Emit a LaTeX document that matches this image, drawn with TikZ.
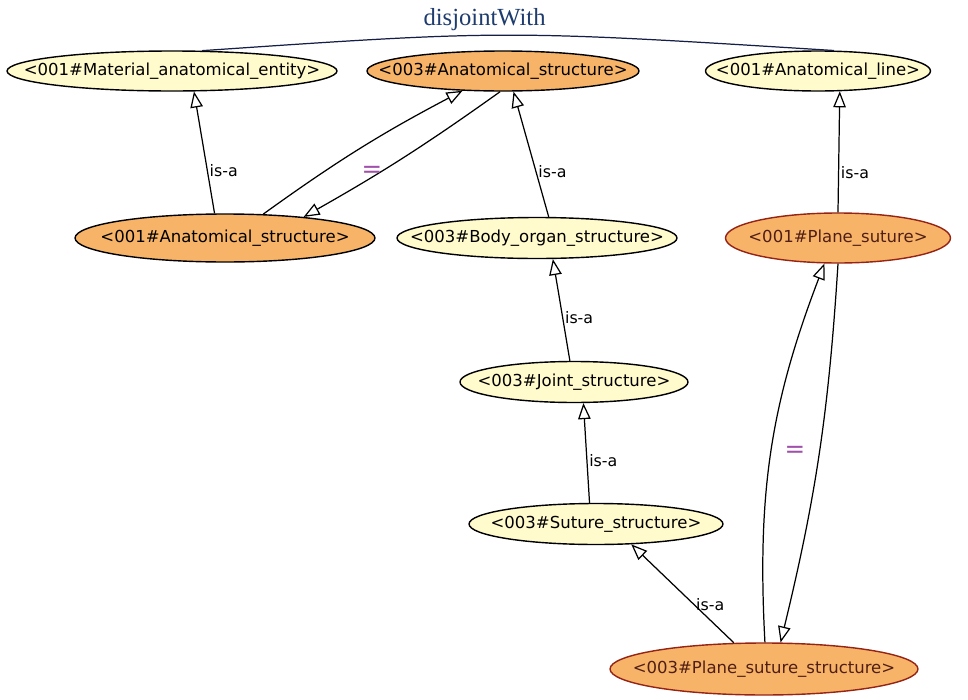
\documentclass[tikz,border=0pt]{standalone}
\usepackage{fontspec}
\newfontfamily\conceptfont{DejaVu Sans}
\newfontfamily\relfont{Liberation Serif}
\usetikzlibrary{shapes.geometric,arrows.meta,positioning}
\definecolor{paleyellow}{RGB}{255,251,204}
\definecolor{lightorange}{RGB}{247,180,104}
\definecolor{sutureborder}{RGB}{150,35,20}
\definecolor{suturetext}{RGB}{80,30,20}
\definecolor{eqpurple}{RGB}{160,80,170}
\definecolor{relblue}{RGB}{30,60,110}
\definecolor{relline}{RGB}{20,30,70}

\begin{document}
\begin{tikzpicture}[x=0.02cm,y=-0.02cm,
  concept/.style={ellipse,draw,line width=0.8pt,inner xsep=-40pt,inner ysep=0pt,minimum height=0.8cm,font=\conceptfont\fontsize{9.4}{11}\selectfont},
  yellowc/.style={concept,fill=paleyellow},
  orangec/.style={concept,fill=lightorange},
  suturec/.style={concept,fill=lightorange,draw=sutureborder,text=suturetext},
  isa/.style={-{Triangle[open,length=0.32cm,width=0.25cm]},line width=0.7pt},
  rel/.style={font=\conceptfont\fontsize{9}{10}\selectfont,inner sep=1pt,pos=0.42},
  eq/.style={text=eqpurple,font=\conceptfont\fontsize{14}{14}\selectfont}]
\path[fill=white] (0,0) rectangle (968,700);

\node[yellowc,minimum width=6.6cm] (mat) at (172,71) {<001\#Material\_anatomical\_entity>};
\node[orangec,minimum width=5.44cm] (as3) at (503,71) {<003\#Anatomical\_structure>};
\node[yellowc,minimum width=4.5cm] (al) at (818,71) {<001\#Anatomical\_line>};
\node[orangec,minimum width=6cm,minimum height=0.96cm] (as1) at (225,238) {<001\#Anatomical\_structure>};
\node[yellowc,minimum width=5.6cm,minimum height=0.82cm] (bo) at (537,238) {<003\#Body\_organ\_structure>};
\node[suturec,minimum width=4.5cm,minimum height=1cm] (ps1) at (838,238) {<001\#Plane\_suture>};
\node[yellowc,minimum width=4.56cm,minimum height=0.82cm] (jt) at (574,382) {<003\#Joint\_structure>};
\node[yellowc,minimum width=5.08cm,minimum height=0.82cm] (su) at (596,524) {<003\#Suture\_structure>};
\node[suturec,minimum width=6.16cm,minimum height=1.04cm] (pss) at (764,669) {<003\#Plane\_suture\_structure>};

\draw[relline,line width=0.7pt] (mat.34) .. controls (505,30) .. node[above,pos=0.45,inner sep=2pt,text=relblue,font=\relfont\fontsize{14}{16}\selectfont] {disjointWith} (al.52);

\draw[isa] (as1.113) -- node[rel,right,pos=0.35] {is-a} (mat.-43);
\draw[isa] (as1.32) to[bend left=4] (as3.-154);
\draw[isa] (as3.-98) to[bend left=3] (as1.15);
\node[eq] (eqtop) at (372,172) {=};
\draw[isa] (bo.61) -- node[rel,right,pos=0.36] {is-a} (as3.-63);
\draw[isa] (ps1.90) -- node[rel,right,pos=0.33] {is-a} (al.-43);
\draw[isa] (jt.101) -- node[rel,right] {is-a} (bo.-53);
\draw[isa] (su.107) -- node[rel,right] {is-a} (jt.-66);
\draw[isa] (pss.139) -- node[rel,right,pos=0.39] {is-a} (su.-30);
\draw[isa] (pss.88) to[bend left=12] (ps1.-118);
\draw[isa] (ps1.-90) to[bend left=5] (pss.58);
\node[eq] (eqright) at (795,452) {=};
\end{tikzpicture}
\end{document}
